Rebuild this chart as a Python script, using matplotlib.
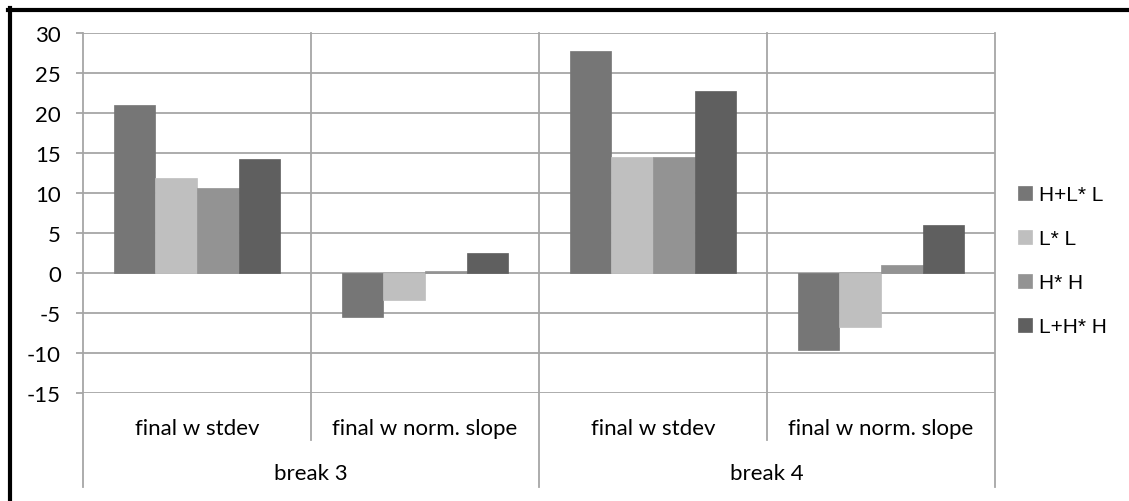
import matplotlib
matplotlib.use("Agg")
import matplotlib.pyplot as plt
from matplotlib.lines import Line2D
import numpy as np

plt.rcParams["axes.unicode_minus"] = False

# values
categories = ["final w stdev", "final w norm. slope", "final w stdev", "final w norm. slope"]
groups = ["break 3", "break 4"]
series = ["H+L* L", "L* L", "H* H", "L+H* H"]
h_l_l = [21.0, -5.5, 27.8, -9.6]
l_l = [11.9, -3.4, 14.5, -6.7]
h_h = [10.6, 0.2, 14.5, 1.0]
l_h_h = [14.2, 2.5, 22.8, 6.0]
colors = ["#767676", "#bfbfbf", "#939393", "#5f5f5f"]

W, H = 1129, 502
fig = plt.figure(figsize=(W / 100, H / 100), dpi=100)
ax = fig.add_axes([83 / W, 1 - 394 / H, 912 / W, 360 / H])

grid_c = "#a6a6a6"
grid_w = 1.3
tick_font = "Lato"

x = np.arange(len(categories))
bw = 0.183
for i, (name, vals) in enumerate(zip(series, [h_l_l, l_l, h_h, l_h_h])):
    ax.bar(x + (i - 1.5) * bw, vals, bw, color=colors[i], label=name, zorder=3,
           edgecolor=colors[i], linewidth=0.5)

ax.set_xlim(-0.5, len(categories) - 0.5)
ax.set_ylim(-15, 30)
ax.set_yticks(range(-15, 31, 5))
ax.set_xticks([])
for s in ax.spines.values():
    s.set_visible(False)
ax.grid(axis="y", color=grid_c, linewidth=grid_w, zorder=1)
ax.tick_params(axis="y", length=5, width=grid_w, color=grid_c, pad=11, labelsize=16)
for lab in ax.get_yticklabels():
    lab.set_fontfamily(tick_font)

# category boundaries and the two-level axis below
trans = ax.get_xaxis_transform()
for b in np.arange(-0.5, len(categories), 1.0):
    outer = int(b + 0.5) % 2 == 0
    ybot = -0.261 if outer else -0.1306
    ax.plot([b, b], [1, ybot], color=grid_c, linewidth=grid_w, transform=trans,
            clip_on=False, zorder=1)

for xi, c in zip(x, categories):
    ax.text(xi, -0.097, c, transform=trans, ha="center", va="center",
            fontsize=16, family=tick_font)
for gi, g in enumerate(groups):
    ax.text(2 * gi + 0.5, -0.222, g, transform=trans, ha="center", va="center",
            fontsize=16, family=tick_font)

leg = ax.legend(loc="center left", bbox_to_anchor=(1018 / W, 1 - 262 / H),
                bbox_transform=fig.transFigure, frameon=False, borderpad=0,
                borderaxespad=0, handlelength=0.65, handleheight=0.65,
                handletextpad=0.35, labelspacing=1.2,
                prop={"family": "Liberation Sans", "size": 15})

# black frame at top and left, as in the screenshot
fig.add_artist(Line2D([8 / W, 1], [1 - 11 / H, 1 - 11 / H], color="black",
                      linewidth=3, transform=fig.transFigure))
fig.add_artist(Line2D([10 / W, 10 / W], [0, 1 - 9 / H], color="black",
                      linewidth=3, transform=fig.transFigure))

fig.savefig("out.png", dpi=100)
